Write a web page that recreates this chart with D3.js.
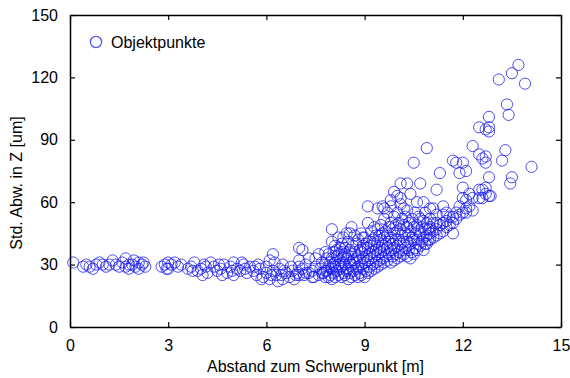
<!DOCTYPE html>
<html>
<head>
<meta charset="utf-8">
<script src="https://cdn.jsdelivr.net/npm/d3@7"></script>
<style>
  body { margin: 0; background: #fff; }
  text { font-family: "Liberation Sans", Arial, sans-serif; }
</style>
</head>
<body>
<div id="chart"></div>
<script>
// x positions (m) and the y values (um) read at each
const xCols = [
  0.1, 0.4, 0.5, 0.6, 0.7, 0.8, 0.9, 1.0, 1.1, 1.2, 1.3, 1.4, 1.5, 1.6, 1.7, 1.8, 1.9, 1.95, 2.0, 2.1, 2.2, 2.25, 2.3,
  2.8, 2.9, 2.95, 3.0, 3.1, 3.2, 3.3, 3.4,
  3.6, 3.7, 3.75, 3.8, 3.9, 4.0, 4.05, 4.1, 4.15, 4.2, 4.3, 4.4, 4.5, 4.55, 4.6, 4.65, 4.7, 4.8, 4.9, 4.95, 5.0, 5.1, 5.2, 5.25, 5.3, 5.35, 5.4, 5.5,
  5.6, 5.65, 5.7, 5.75, 5.8, 5.85, 5.9, 6.0, 6.1, 6.15, 6.2, 6.25, 6.3, 6.35, 6.4, 6.45, 6.5, 6.55, 6.6, 6.7, 6.75, 6.8, 6.85, 6.9, 6.95,
  7.0, 7.1, 7.15, 7.2, 7.3, 7.4, 7.45, 7.5, 7.6, 7.65, 7.7, 7.75, 7.8, 7.85, 7.9, 7.95,
  8.0, 8.05, 8.1, 8.15, 8.2, 8.25, 8.3, 8.35, 8.4, 8.45, 8.5, 8.55, 8.6, 8.65, 8.7, 8.75, 8.8, 8.85, 8.9, 8.95,
  9.0, 9.05, 9.1, 9.15, 9.2, 9.25, 9.3, 9.35, 9.4, 9.45, 9.5, 9.55, 9.6, 9.65, 9.7, 9.75, 9.8, 9.85, 9.9, 9.95,
  10.0, 10.05, 10.1, 10.15, 10.2, 10.25, 10.3, 10.35, 10.4, 10.45, 10.5, 10.55, 10.6, 10.65, 10.7, 10.75, 10.8, 10.85, 10.9, 10.95,
  11.0, 11.1, 11.2, 11.3, 11.4, 11.5, 11.6, 11.7, 11.8, 11.9,
  12.0, 12.1, 12.2, 12.3, 12.5, 12.6, 12.7, 12.8, 12.85, 13.1, 13.2, 13.3, 13.35, 13.4, 13.45, 13.5, 13.7, 13.9, 14.1
];
const yCols = [
  [31], [29], [30], [29], [28], [30], [31], [30], [29], [30], [32], [30], [29], [31], [33, 29], [28, 30], [30], [32], [29], [31, 28], [30], [31], [29],
  [29], [30], [28], [28, 31], [30], [31], [29], [30],
  [28], [29], [27], [31], [27], [28], [25], [30], [29], [26], [31], [29], [27], [30], [28], [25], [30], [26], [29], [27], [31, 25], [28], [27], [31], [30], [28], [26], [29],
  [27], [29], [25], [30], [28], [23], [24], [26, 29], [23, 32], [25], [27, 35], [31], [25], [22], [28], [25], [23, 30], [27], [26], [24], [29], [27], [23], [25], [26],
  [25, 29, 32, 38], [28, 37], [25], [30, 26], [26, 33], [27, 24], [24], [29, 33], [25, 35], [28], [31, 26], [26], [24, 27, 30, 36], [27, 33], [24, 29, 35], [31, 25],
  [23, 28, 33, 41, 47], [26, 30, 36], [24, 29, 31, 39], [27, 34, 37], [25, 30, 35, 43], [28, 32, 38], [24, 29, 36, 40], [26, 31, 34, 43], [25, 30, 35, 38], [27, 33, 45],
  [23, 28, 34, 41], [26, 31, 37, 45], [24, 30, 35, 48], [27, 32, 39], [25, 31, 36, 44], [28, 33, 40], [24, 29, 34, 42], [26, 32, 37], [25, 30, 36, 45], [28, 33, 39, 43],
  [24, 31, 37, 43], [27, 34, 40], [26, 32, 38, 50, 58], [29, 35, 41], [27, 33, 39, 46], [30, 36, 42], [28, 34, 40, 48], [31, 37, 44], [29, 35, 41, 47, 57], [32, 38, 44],
  [30, 36, 42, 49], [33, 39, 45, 58], [31, 37, 43, 52, 57], [34, 40, 46], [32, 38, 44, 55], [35, 41, 48], [31, 37, 43, 50, 58, 61], [34, 40, 47], [32, 38, 45, 53, 65], [35, 42, 49],
  [33, 39, 46, 55, 63], [36, 42, 50], [34, 40, 47, 59, 62, 69], [37, 44, 52], [35, 41, 49, 57], [38, 45, 53], [34, 41, 48, 56, 69], [37, 44, 50], [33, 40, 46, 64], [36, 43, 52],
  [35, 42, 48, 79], [38, 45, 55], [37, 42, 49, 60], [40, 46, 53], [39, 45, 52, 69], [41, 48], [37, 43, 51, 60], [40, 47, 55], [40, 44, 50, 86], [42, 47],
  [42, 45, 48, 52, 57], [43, 46, 50, 57], [44, 47, 50, 54, 66], [45, 49, 74], [46, 50, 54, 58], [48, 51, 55], [49, 53], [45, 50, 53, 80], [52, 55, 79], [54, 58, 74],
  [55, 62, 67, 79], [55, 57, 61, 75], [58, 64], [56, 62, 87], [62, 66, 83, 96], [62, 66, 81], [64, 67, 79, 82, 95],
  [63, 72, 94, 96, 101], [63], [119], [80], [85], [107], [102], [69], [72, 122], [126], [117], [77]
];
const xTicks = [0, 3, 6, 9, 12, 15];
const yTicks = [0, 30, 60, 90, 120, 150];
const seriesName = 'Objektpunkte';
const xTitle = 'Abstand zum Schwerpunkt [m]';
const yTitle = 'Std. Abw. in Z [um]';

const points = xCols.flatMap((x, i) => yCols[i].map((y) => ({ x, y })));

const width = 570;
const height = 378;
const margin = { top: 15, right: 9, bottom: 51, left: 70 };

const svg = d3.select('#chart').append('svg')
  .attr('width', width)
  .attr('height', height);

const xScale = d3.scaleLinear().domain([0, 15]).range([margin.left, width - margin.right]);
const yScale = d3.scaleLinear().domain([0, 150]).range([height - margin.bottom, margin.top]);

const blue = 'rgba(20, 20, 240, 0.75)';

// points
svg.append('g')
  .selectAll('circle')
  .data(points)
  .join('circle')
  .attr('cx', (d) => xScale(d.x))
  .attr('cy', (d) => yScale(d.y))
  .attr('r', 5.6)
  .attr('fill', 'none')
  .attr('stroke', blue)
  .attr('stroke-width', 1);

// box axes with ticks pointing inward
const axisStyle = (g) => {
  g.select('.domain').attr('stroke', '#000').attr('stroke-width', 1.5);
  g.selectAll('.tick line').attr('stroke', '#000').attr('stroke-width', 1.2);
  g.selectAll('text').attr('font-size', 16).attr('fill', '#000')
    .attr('font-family', '"Liberation Sans", Arial, sans-serif');
};

svg.append('g')
  .attr('transform', `translate(0, ${yScale(0)})`)
  .call(d3.axisBottom(xScale).tickValues(xTicks).tickSizeInner(-5).tickSizeOuter(0).tickPadding(13))
  .call(axisStyle);

svg.append('g')
  .attr('transform', `translate(0, ${yScale(150)})`)
  .call(d3.axisTop(xScale).tickValues(xTicks).tickSizeInner(-5).tickSizeOuter(0).tickFormat(''))
  .call(axisStyle);

svg.append('g')
  .attr('transform', `translate(${xScale(0)}, 0)`)
  .call(d3.axisLeft(yScale).tickValues(yTicks).tickSizeInner(-5).tickSizeOuter(0).tickPadding(12))
  .call(axisStyle);

svg.append('g')
  .attr('transform', `translate(${xScale(15)}, 0)`)
  .call(d3.axisRight(yScale).tickValues(yTicks).tickSizeInner(-5).tickSizeOuter(0).tickFormat(''))
  .call(axisStyle);

// legend
svg.append('circle')
  .attr('cx', 96).attr('cy', 42).attr('r', 5.6)
  .attr('fill', 'none').attr('stroke', blue).attr('stroke-width', 1.3);
svg.append('text')
  .attr('x', 111).attr('y', 48)
  .attr('font-size', 16)
  .text(seriesName);

// axis titles
svg.append('text')
  .attr('x', (xScale(0) + xScale(15)) / 2)
  .attr('y', 372)
  .attr('text-anchor', 'middle')
  .attr('font-size', 16)
  .text(xTitle);

svg.append('text')
  .attr('transform', 'translate(22, 183) rotate(-90)')
  .attr('text-anchor', 'middle')
  .attr('font-size', 16)
  .text(yTitle);
</script>
</body>
</html>
